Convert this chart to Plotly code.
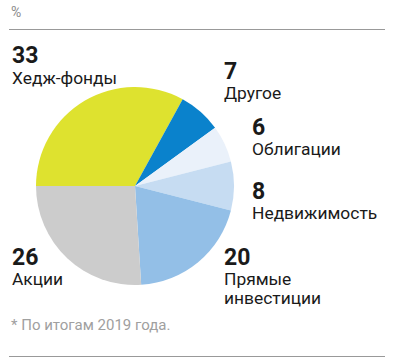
import plotly.graph_objects as go

labels = ["Хедж-фонды", "Другое", "Облигации", "Недвижимость", "Прямые инвестиции", "Акции"]
values = [33, 7, 6, 8, 20, 26]
colors = ["#dee22f", "#0a82cc", "#eaf1fa", "#c6dcf2", "#93bfe7", "#cccccc"]
label_lines = [["Хедж-фонды"], ["Другое"], ["Облигации"], ["Недвижимость"], ["Прямые", "инвестиции"], ["Акции"]]

W, H = 395, 361
OFF = 0  # page body margin removed via post_script
cx, cy, r = 135, 186, 99

def px(x):
    return (x - OFF) / W

def py(y):
    return 1 - (y - OFF) / H

fig = go.Figure(go.Pie(
    labels=labels, values=values, sort=False, direction="clockwise",
    rotation=270, marker=dict(colors=colors, line=dict(width=0)),
    textinfo="none", hoverinfo="label+value", showlegend=False,
    domain=dict(x=[px(cx - r), px(cx + r)], y=[py(cy + r), py(cy - r)]),
))

font_family = "Roboto, Arial, sans-serif"
# (x, number y center, first label line y center) per slice
positions = [(10, 56, 78), (222, 71, 93), (250, 128, 149), (250, 191, 213), (222, 257, 279), (10, 257, 279)]

ann = []
for (x, ny, ly), v, lines in zip(positions, values, label_lines):
    ann.append(dict(x=px(x), y=py(ny), xref="paper", yref="paper", xanchor="left", yanchor="middle",
                    text=f"<b>{v}</b>", showarrow=False,
                    font=dict(family=font_family, size=23, color="#1a1a1a")))
    for i, t in enumerate(lines):
        ann.append(dict(x=px(x), y=py(ly + 18.5 * i), xref="paper", yref="paper", xanchor="left",
                        yanchor="middle", text=t, showarrow=False, align="left",
                        font=dict(family=font_family, size=17.4, color="#1a1a1a")))

ann.append(dict(x=px(9), y=py(12), xref="paper", yref="paper", xanchor="left", yanchor="middle",
                text="%", showarrow=False, font=dict(family=font_family, size=14, color="#8c8c8c")))
ann.append(dict(x=px(9), y=py(325), xref="paper", yref="paper", xanchor="left", yanchor="middle",
                text="* По итогам 2019 года.", showarrow=False,
                font=dict(family=font_family, size=15, color="#a0a0a0")))

shapes = [
    dict(type="line", xref="paper", yref="paper", x0=px(9), x1=px(385), y0=py(29.5), y1=py(29.5),
         line=dict(color="#999999", width=1)),
    dict(type="line", xref="paper", yref="paper", x0=px(9), x1=px(385), y0=py(356.5), y1=py(356.5),
         line=dict(color="#999999", width=1)),
]

fig.update_layout(width=W, height=H, margin=dict(l=0, r=0, t=0, b=0),
                  paper_bgcolor="white", plot_bgcolor="white",
                  annotations=ann, shapes=shapes)

fig.write_html("out.html", config={"displayModeBar": False},
               post_script="document.body.style.margin='0';")
